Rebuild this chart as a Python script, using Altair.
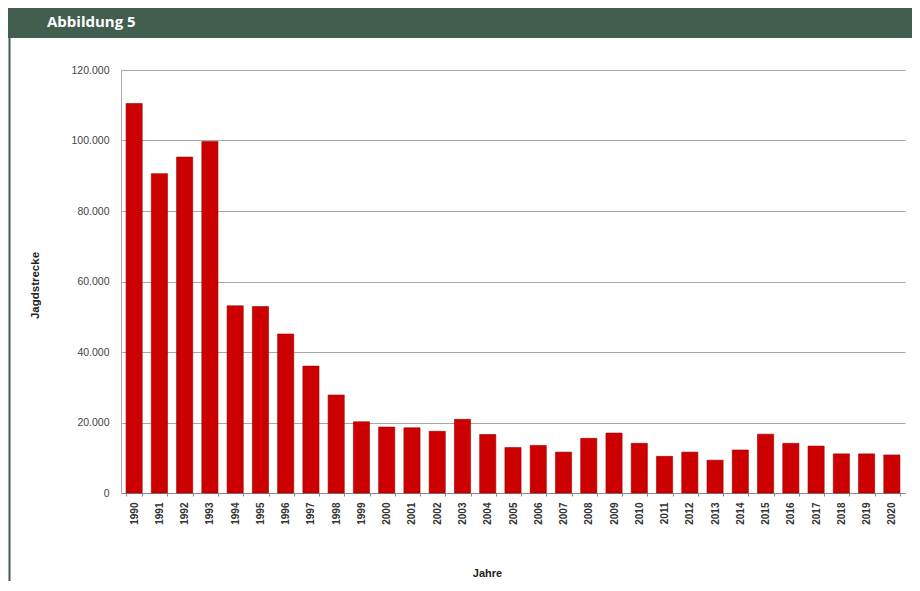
import altair as alt
import pandas as pd

years = [str(y) for y in range(1990, 2021)]
values = [110500, 90600, 95300, 99700, 53100, 52900, 45100, 36000, 27800, 20200,
          18700, 18500, 17500, 20900, 16600, 12900, 13500, 11600, 15500, 17000,
          14100, 10400, 11600, 9300, 12200, 16700, 14100, 13300, 11100, 11100, 10800]
header_text = ["Abbildung 5"]
y_ticks = [0, 20000, 40000, 60000, 80000, 100000, 120000]

df = pd.DataFrame({"Jahr": years, "Strecke": values})

W, H = 784, 423
GREEN = "#415e4f"

bars = alt.Chart(df).mark_bar(color="#cc0000", stroke="#a00000", strokeWidth=0.6).encode(
    x=alt.X("Jahr:N", sort=years,
            scale=alt.Scale(paddingInner=0.36, paddingOuter=0.2),
            axis=alt.Axis(title="Jahre", labelAngle=-90, labelFont="Liberation Sans",
                          labelFontSize=10, labelFontWeight="bold", labelColor="#333333",
                          labelPadding=6, labelBaseline="middle", labelAlign="right",
                          tickBand="extent", tickSize=3, tickColor="#888888",
                          domainColor="#888888",
                          titleFont="Liberation Sans", titleFontSize=11, titleFontWeight="bold",
                          titleColor="#222222", titleX=366, titleY=80, titleBaseline="middle",
                          titleAnchor="start", titleAlign="center")),
    y=alt.Y("Strecke:Q", scale=alt.Scale(domain=[0, 120000], nice=False),
            axis=alt.Axis(title="Jagdstrecke", values=y_ticks,
                          labelExpr="datum.value == 0 ? '0' : format(datum.value/1000, 'd') + '.000'",
                          labelFont="Liberation Sans", labelFontSize=10.5, labelColor="#444444",
                          labelPadding=12, ticks=False, domainColor="#aaaaaa",
                          gridColor="#a8a8a8", gridWidth=1.2,
                          titleFont="Liberation Sans", titleFontSize=11.5, titleFontWeight="bold",
                          titleColor="#222222", titleAngle=-90, titleX=-86, titleY=215,
                          titleAlign="center", titleBaseline="middle"))
)

hdr = pd.DataFrame({"t": header_text})
header_bg = alt.Chart(hdr).mark_rect(color=GREEN).encode(
    x=alt.value(-113), x2=alt.value(W + 7), y=alt.value(-63), y2=alt.value(-32))
header_txt = alt.Chart(hdr).mark_text(color="white", font="Open Sans", fontSize=15,
                                      fontWeight="bold", align="left", baseline="middle").encode(
    x=alt.value(-74), y=alt.value(-48), text="t:N")
left_line = alt.Chart(hdr).mark_rule(color=GREEN, strokeWidth=2).encode(
    x=alt.value(-111.5), y=alt.value(-32), y2=alt.value(H + 90))

chart = alt.layer(header_bg, header_txt, left_line, bars).properties(
    width=W, height=H,
    autosize=alt.AutoSizeParams(type="none"),
    padding={"left": 113, "top": 62, "right": 7, "bottom": 88},
    background="white"
).configure_view(stroke=None)

chart.save("out.html", embed_options={"renderer": "svg", "actions": False})
